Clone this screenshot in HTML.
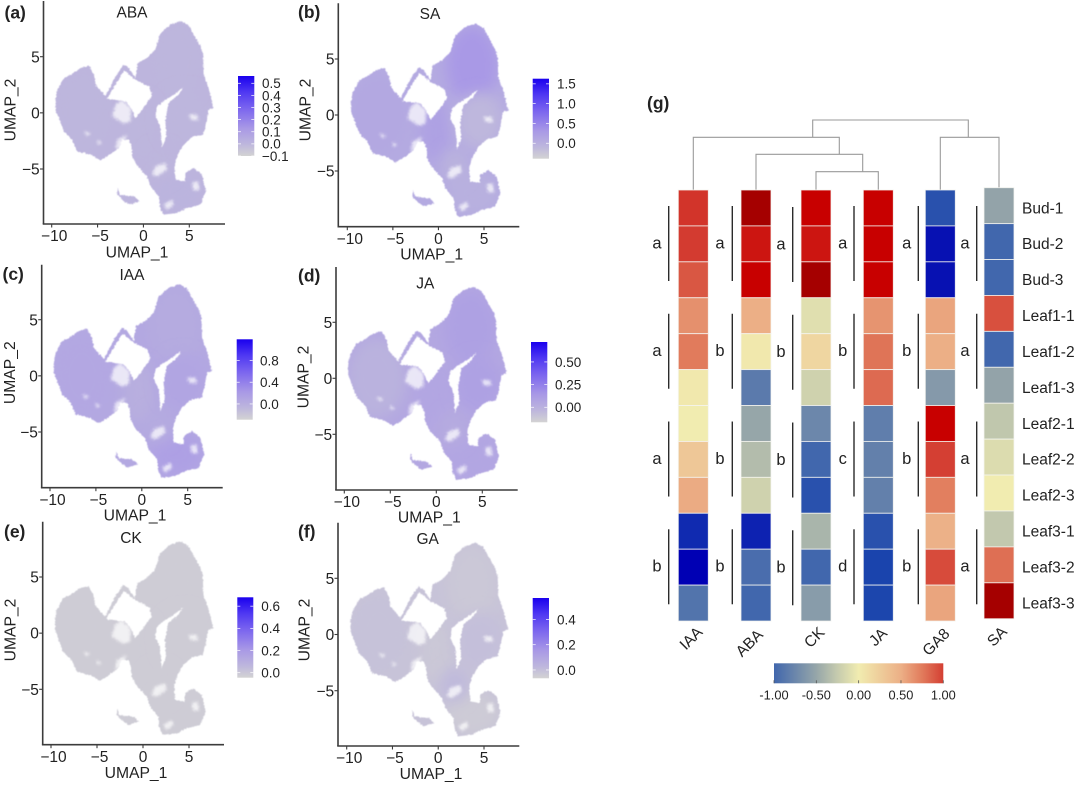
<!DOCTYPE html>
<html>
<head>
<meta charset="utf-8">
<title>Hormone UMAP feature plots and heatmap</title>
<style>
html,body{margin:0;padding:0;background:#fff;}
#figure{display:block;width:1080px;height:795px;background:#fff;}
text{font-family:"Liberation Sans",sans-serif;fill:#222;}
</style>
</head>
<body>
<svg id="figure" xmlns="http://www.w3.org/2000/svg" width="1080" height="795" viewBox="0 0 1080 795">
  <defs>
    <filter id="rough" x="-5%" y="-5%" width="110%" height="110%">
      <feTurbulence type="fractalNoise" baseFrequency="0.5" numOctaves="2" seed="4" result="n"/>
      <feDisplacementMap in="SourceGraphic" in2="n" scale="2.6" xChannelSelector="R" yChannelSelector="G"/>
      <feGaussianBlur stdDeviation="0.45"/>
    </filter>
    <filter id="soft" x="-40%" y="-40%" width="180%" height="180%">
      <feGaussianBlur stdDeviation="7"/>
    </filter>
    <filter id="patch" x="-30%" y="-30%" width="160%" height="160%">
      <feGaussianBlur stdDeviation="1.2"/>
    </filter>
  </defs>
  <g id="umap-panels"></g>
  <g id="heatmap"></g>
</svg>
<script>
// ---------- UMAP shape, in UMAP coordinates ----------
const umapOutline = [[4.09,8.18],[4.93,7.76],[5.47,6.96],[6.20,5.92],[6.49,5.18],[6.56,3.40],[7.10,2.21],[7.64,0.43],[7.10,0.28],[6.74,-1.20],[6.49,-1.94],[5.29,-2.15],[4.38,-2.83],[3.66,-3.87],[3.37,-4.76],[3.48,-5.95],[4.57,-6.10],[4.57,-5.36],[5.47,-4.91],[6.38,-5.50],[6.81,-6.99],[6.20,-8.18],[4.75,-8.47],[3.66,-8.92],[2.14,-9.07],[1.78,-8.32],[1.67,-7.43],[0.76,-6.54],[0.40,-5.65],[-0.76,-4.61],[-1.23,-3.87],[-1.30,-2.98],[-1.59,-2.39],[-2.32,-2.39],[-2.68,-3.13],[-3.95,-3.87],[-4.67,-4.23],[-5.76,-3.72],[-7.21,-3.43],[-7.75,-2.39],[-8.66,-1.65],[-9.57,0.28],[-9.57,1.17],[-9.38,2.06],[-8.66,3.10],[-7.93,3.40],[-6.85,3.99],[-5.94,4.20],[-5.40,3.40],[-5.22,2.51],[-4.13,1.47],[-3.04,3.25],[-2.14,4.29],[-1.59,3.99],[-0.87,3.10],[-0.62,4.44],[0.40,4.88],[1.30,5.62],[1.85,7.11],[2.93,7.85]];
const umapHoles = [
  [[-4.02,1.23],[-3.22,2.30],[-2.07,3.78],[-0.87,2.95],[0.69,2.30],[0.94,1.47],[-0.14,0.28],[-0.87,-0.46],[-1.34,0.43],[-2.00,1.05],[-3.22,1.17]],
  [[4.38,2.30],[3.30,1.62],[2.39,1.17],[1.49,0.58],[1.30,-0.31],[1.85,-1.20],[2.03,-3.13],[2.50,-2.09],[2.39,-0.61],[2.75,0.88],[3.84,1.62]]
];
const umapPatches = [
  [[-3.41,-0.31],[-3.04,0.73],[-2.32,1.15],[-1.34,0.43],[-1.41,-0.76],[-2.14,-0.96]],
  [[1.30,-4.76],[2.39,-4.47],[2.57,-5.06],[1.49,-5.65],[0.94,-5.50]],
  [[2.21,-8.17],[3.12,-7.73],[3.30,-8.17],[2.57,-8.62]],
  [[4.93,-0.16],[5.83,-0.16],[6.01,-0.67],[5.18,-0.61]],
  [[-2.86,-2.39],[-1.78,-1.94],[-2.32,-2.98],[-3.04,-3.28]],
  [[-6.49,-1.65],[-5.76,-1.80],[-6.12,-2.09]],
  [[-5.04,-2.39],[-4.49,-2.69],[-4.96,-2.83]],
  [[5.30,-6.20],[5.95,-6.10],[6.10,-6.90],[5.45,-6.90]]
];
const umapIsland = [[-2.79,-6.69],[-2.57,-7.28],[-1.96,-7.37],[-1.05,-7.43],[-0.40,-7.88],[-1.59,-8.17],[-2.32,-7.73],[-2.86,-7.28]];
const regionNames = ['left','top','center','right','bottom','mid'];
const regionCx = [-6.5,3.7,-0.3,4.5,3.8,1.8];
const regionCy = [0,4.5,-1.5,-0.5,-7,-4.5];
const regionRx = [3.2,2.8,1.7,2.6,3,1.5];
const regionRy = [3.6,3.4,2.8,2.5,2,1.5];

// ---------- UMAP expression values per region ----------
const abaExpression = [0.00,0.00,0.00,0.00,0.01,0.00];
const saExpression  = [0.10,0.30,0.20,-0.10,0.00,-0.03];
const iaaExpression = [0.08,0.04,0.00,0.10,0.15,0.04];
const jaExpression  = [-0.01,0.09,0.06,0.09,0.06,0.03];
const ckExpression  = [-0.02,-0.02,-0.02,-0.02,-0.02,-0.02];
const gaExpression  = [-0.01,-0.03,-0.03,0.00,-0.04,0.02];

const xTickValues = [-10,-5,0,5];
const yTickValues = [5,0,-5];
const abaLegendTicks = [0.5,0.4,0.3,0.2,0.1,0.0,-0.1];
const saLegendTicks = [1.5,1.0,0.5,0.0];
const iaaLegendTicks = [0.8,0.4,0.0];
const jaLegendTicks = [0.50,0.25,0.00];
const ckLegendTicks = [0.6,0.4,0.2,0.0];
const gaLegendTicks = [0.4,0.2,0.0];

// Panel layout (pixel calibration: where x=-10, x=5, y=5, y=-5 fall)
const panels = [
 {id:'a',title:'ABA',values:abaExpression,ticks:abaLegendTicks,digits:1,vmin:-0.1,vmax:0.56,
  axisX:43.5,top:1,bottom:224,right:225,xA:51.7,xB:189.3,yA:56.7,yB:169,
  cbL:238,cbR:254.3,cbT:76,cbB:156,lblX:262,titleP:[132,12],xLab:[137,251.7],yLab:[10,110],tag:[4.5,12]},
 {id:'b',title:'SA',values:saExpression,ticks:saLegendTicks,digits:1,vmin:-0.39,vmax:1.63,
  axisX:338.3,top:3.3,bottom:226.7,right:519.3,xA:347.3,xB:484,yA:59,yB:171,
  cbL:532.7,cbR:549,cbT:78.7,cbB:158.7,lblX:557,titleP:[430,13.3],xLab:[431.7,254],yLab:[305,110],tag:[298,11.7]},
 {id:'c',title:'IAA',values:iaaExpression,ticks:iaaLegendTicks,digits:1,vmin:-0.29,vmax:1.19,
  axisX:41.7,top:264.7,bottom:487.7,right:222.7,xA:50,xB:187.7,yA:319.7,yB:432,
  cbL:236.7,cbR:252.7,cbT:339.3,cbB:419.7,lblX:260,titleP:[132,274.3],xLab:[135,514.7],yLab:[9.3,372.7],tag:[2.5,273.7]},
 {id:'d',title:'JA',values:jaExpression,ticks:jaLegendTicks,digits:2,vmin:-0.166,vmax:0.72,
  axisX:336,top:267,bottom:490,right:517.7,xA:344.3,xB:482.3,yA:322.3,yB:434.3,
  cbL:531,cbR:547.3,cbT:342,cbB:422.3,lblX:555,titleP:[425.3,282.7],xLab:[429.3,517],yLab:[303,377],tag:[298,275.3]},
 {id:'e',title:'CK',values:ckExpression,ticks:ckLegendTicks,digits:1,vmin:-0.045,vmax:0.68,
  axisX:42.7,top:521.7,bottom:744.7,right:224,xA:51,xB:189,yA:577,yB:689.3,
  cbL:237.3,cbR:253.3,cbT:597.3,cbB:677.7,lblX:261.3,titleP:[131,537.3],xLab:[136,772.3],yLab:[10,630],tag:[4,531]},
 {id:'f',title:'GA',values:gaExpression,ticks:gaLegendTicks,digits:1,vmin:-0.066,vmax:0.57,
  axisX:338,top:522.7,bottom:746,right:519.3,xA:346.7,xB:484,yA:578.3,yB:690.7,
  cbL:532.7,cbR:549,cbT:598,cbB:678.3,lblX:557,titleP:[427.7,538.3],xLab:[431,773.3],yLab:[304,630],tag:[298,531]}
];

// ---------- Heatmap data ----------
const heatRows = ['Bud-1','Bud-2','Bud-3','Leaf1-1','Leaf1-2','Leaf1-3','Leaf2-1','Leaf2-2','Leaf2-3','Leaf3-1','Leaf3-2','Leaf3-3'];
const heatColumns = ['IAA','ABA','CK','JA','GA8','SA'];
const iaaHeat = [1.05,1.02,0.90,0.65,0.75,0.03,0.00,0.30,0.52,-1.55,-1.80,-0.90];
const abaHeat = [1.70,1.20,1.30,0.50,0.03,-0.85,-0.50,-0.35,-0.20,-1.60,-0.95,-1.00];
const ckHeat  = [1.30,1.20,1.70,-0.10,0.18,-0.20,-0.75,-1.00,-1.25,-0.40,-1.00,-0.58];
const jaHeat  = [1.30,1.30,1.30,0.63,0.78,0.82,-0.82,-0.80,-0.80,-1.25,-1.40,-1.38];
const ga8Heat = [-1.25,-1.70,-1.70,0.55,0.50,-0.60,1.30,1.00,0.73,0.48,0.95,0.55];
const saHeat  = [-0.52,-1.00,-1.00,0.93,-1.00,-0.52,-0.28,-0.12,0.00,-0.27,0.80,1.70];
const heatMatrix = [iaaHeat,abaHeat,ckHeat,jaHeat,ga8Heat,saHeat];
const iaaLetters = ['a','a','a','b'];
const abaLetters = ['a','b','b','b'];
const ckLetters = ['a','b','b','b'];
const jaLetters = ['a','b','c','d'];
const ga8Letters = ['a','b','b','b'];
const saLetters = ['a','a','a','a'];
const letterMatrix = [iaaLetters,abaLetters,ckLetters,jaLetters,ga8Letters,saLetters];
const heatLegendTicks = [-1,-0.5,0,0.5,1];

// Layout of heatmap (not data)
const heatLayout = {
  colLeft:[678.3,741,801,863.3,925.3,984], colW:30, top:190, rowH:35.92,
  colDy:[0,0,0,0,0,-2.3],
  bracketX:[668.7,732.3,792.7,854,918.3,976.7], bracketDy:[0,0,1,0,0,0],
  letterX:[657,720,781,842.7,906.7,965],
  colLabelPos:[[690.7,638],[749,642.7],[814,637],[877.7,636.7],[935.7,641.7],[996.7,636]],
  rowLabelX:1022,
  cbL:774,cbR:943.3,cbT:663.3,cbB:683.3
};

// ---------- Colour scales ----------
const expressionRamp = [[0,'#d3d3d3'],[0.15,'#bdb6dd'],[0.35,'#a898e6'],[0.6,'#7a64ef'],[0.8,'#4f38f2'],[1,'#1a00ee']];
const heatRamp = [[-1.8,'#0000b4'],[-1.4,'#1a44ad'],[-1,'#4167ad'],[-0.5,'#96a6a9'],[-0.25,'#c6cbae'],[0,'#f1ecb0'],[0.5,'#ecaf86'],[0.75,'#e17b5c'],[1,'#d43f33'],[1.3,'#c80000'],[1.7,'#a50000']];
function hex(c){return [parseInt(c.slice(1,3),16),parseInt(c.slice(3,5),16),parseInt(c.slice(5,7),16)];}
function rampColor(ramp,v){
  if(v<=ramp[0][0]) return ramp[0][1];
  for(let i=1;i<ramp.length;i++){
    if(v<=ramp[i][0]){
      const t=(v-ramp[i-1][0])/(ramp[i][0]-ramp[i-1][0]);
      const a=hex(ramp[i-1][1]),b=hex(ramp[i][1]);
      return 'rgb('+a.map((x,k)=>Math.round(x+(b[k]-x)*t)).join(',')+')';
    }
  }
  return ramp[ramp.length-1][1];
}

// ---------- helpers ----------
const NS='http://www.w3.org/2000/svg';
const svg=document.getElementById('figure');
const defs=svg.querySelector('defs');
function el(tag,attrs,parent){
  const e=document.createElementNS(NS,tag);
  for(const k in attrs) e.setAttribute(k,attrs[k]);
  parent.appendChild(e);
  return e;
}
function txt(str,x,y,size,anchor,parent,extra){
  const e=el('text',Object.assign({x:x,y:y+size*0.36,'font-size':size,'text-anchor':anchor||'middle'},extra||{}),parent);
  e.textContent=str;
  return e;
}
function line(x1,y1,x2,y2,stroke,w,parent){
  return el('line',{x1:x1,y1:y1,x2:x2,y2:y2,stroke:stroke,'stroke-width':w},parent);
}
function polyPath(pts,sx,sy){
  return 'M'+pts.map(p=>sx(p[0]).toFixed(1)+' '+sy(p[1]).toFixed(1)).join('L')+'Z';
}

// ---------- UMAP panels ----------
const umapRoot=document.getElementById('umap-panels');
panels.forEach(function(p){
  const sx=v=>p.xA+(v+10)*(p.xB-p.xA)/15;
  const sy=v=>p.yA+(5-v)*(p.yB-p.yA)/10;
  const tOf=v=>(v-p.vmin)/(p.vmax-p.vmin);
  const colorOf=v=>rampColor(expressionRamp,tOf(v));
  const g=el('g',{},umapRoot);
  
  

  const tag=txt('('+p.id+')',p.tag[0],p.tag[1],17.5,'start',g,{'font-weight':'bold'});
  
  

  const title=txt(p.title,p.titleP[0],p.titleP[1],15.5,'middle',g);
  
  

  // clip & cloud
  const d=polyPath(umapOutline,sx,sy)+umapHoles.map(h=>polyPath(h,sx,sy)).join('')+polyPath(umapIsland,sx,sy);
  const clip=el('clipPath',{id:'clip-'+p.id},defs);
  el('path',{d:d,'clip-rule':'evenodd'},clip);
  const mean=p.values.reduce((a,b)=>a+b,0)/p.values.length;
  const cloud=el('g',{filter:'url(#rough)'},g);
  
  
  el('path',{d:d,fill:colorOf(mean),'fill-rule':'evenodd'},cloud);
  const inner=el('g',{'clip-path':'url(#clip-'+p.id+')'},cloud);
  p.values.forEach(function(v,i){
    const r=el('ellipse',{cx:sx(regionCx[i]),cy:sy(regionCy[i]),rx:regionRx[i]*(p.xB-p.xA)/15,ry:regionRy[i]*(p.yB-p.yA)/10,fill:colorOf(v),filter:'url(#soft)'},inner);
    
    
  });
  umapPatches.forEach(function(patch){
    const s=el('path',{d:polyPath(patch,sx,sy),fill:'#ffffff','fill-opacity':0.72,filter:'url(#patch)'},cloud);
    
    
  });

  // axes
  const yAxis=line(p.axisX,p.top,p.axisX,p.bottom,'#3c3c3c',1.6,g);
  
  
  const xAxis=line(p.axisX-0.8,p.bottom,p.right,p.bottom,'#3c3c3c',1.6,g);
  
  
  xTickValues.forEach(function(t){
    const m=line(sx(t),p.bottom,sx(t),p.bottom+3.5,'#3c3c3c',1.1,g);
    
    
    const l=txt((t<0?'\u2212':'')+Math.abs(t),sx(t)+(t<0?2.5:0),p.bottom+11.5,15.5,'middle',g);
    
    
  });
  yTickValues.forEach(function(t){
    const m=line(p.axisX-3.5,sy(t),p.axisX,sy(t),'#3c3c3c',1.1,g);
    
    
    const l=txt((t<0?'\u2212':'')+Math.abs(t),p.axisX-3.8,sy(t),15.5,'end',g);
    
    
  });
  const xl=txt('UMAP_1',p.xLab[0],p.xLab[1],15.7,'middle',g);
  
  
  const yl=txt('UMAP_2',0,0,15.7,'middle',g,{transform:'translate('+p.yLab[0]+','+p.yLab[1]+') rotate(-90)'});
  
  

  // legend
  const gid='cb-'+p.id;
  const grad=el('linearGradient',{id:gid,x1:0,y1:1,x2:0,y2:0},defs);
  expressionRamp.forEach(s=>el('stop',{offset:s[0],'stop-color':s[1]},grad));
  const cb=el('rect',{x:p.cbL,y:p.cbT,width:p.cbR-p.cbL,height:p.cbB-p.cbT,fill:'url(#'+gid+')'},g);
  
  
  const ly=v=>p.cbB-(v-p.vmin)/(p.vmax-p.vmin)*(p.cbB-p.cbT);
  p.ticks.forEach(function(t){
    const a=line(p.cbL,ly(t),p.cbL+3,ly(t),'#ffffff',0.7,g);
    
    
    const b=line(p.cbR-3,ly(t),p.cbR,ly(t),'#ffffff',0.7,g);
    
    
    const l=txt((t<0?'\u2212':'')+Math.abs(t).toFixed(p.digits),p.lblX,ly(t),13.5,'start',g);
    
    
  });
});

// ---------- Heatmap ----------
const hm=document.getElementById('heatmap');
const L=heatLayout;
const rowY=i=>L.top+i*L.rowH;
const gTag=txt('(g)',647,102.7,17.5,'start',hm,{'font-weight':'bold'});



// dendrogram
const colCenter=i=>L.colLeft[i]+L.colW/2;
const dendroG=el('g',{fill:'none',stroke:'#9a9a9a','stroke-width':1.1},hm);


function bracket(x1,y1,x2,y2,yJoin){
  el('path',{d:'M'+x1+' '+y1+'V'+yJoin+'H'+x2+'V'+y2},dendroG);
}
bracket(colCenter(2),190,colCenter(3),190,171.7);
bracket(colCenter(1),190,862.7,171.7,154.3);
bracket(colCenter(0),190,839.3,154.3,137.3);
bracket(colCenter(4),190,colCenter(5),187.7,137.3);
bracket(812.7,137.3,968.3,137.3,120);

heatMatrix.forEach(function(col,c){
  const left=L.colLeft[c],dy=L.colDy[c];
  col.forEach(function(v,r){
    const cell=el('rect',{x:left,y:rowY(r)+dy,width:L.colW,height:L.rowH,fill:rampColor(heatRamp,v),stroke:'#f4f4f0','stroke-width':0.9,'stroke-opacity':0.85},hm);
    
    
  });
  letterMatrix[c].forEach(function(letter,k){
    const top=rowY(k*3)+L.bracketDy[c];
    const b=line(L.bracketX[c],top+16,L.bracketX[c],top+91,'#2b2b2b',1.4,hm);
    
    
    const t=el('text',{x:L.letterX[c],y:top+58.3,'font-size':16.5,'text-anchor':'middle'},hm);
    t.textContent=letter;
    
    
  });
  const cp=L.colLabelPos[c];
  const cl=txt(heatColumns[c],0,0,15.5,'middle',hm,{transform:'translate('+cp[0]+','+cp[1]+') rotate(-45)'});
  
  
});
heatRows.forEach(function(name,r){
  const rl=txt(name,L.rowLabelX,rowY(r)+17.7,15.5,'start',hm);
  
  
});

// heatmap legend
const hg=el('linearGradient',{id:'heat-grad',x1:0,y1:0,x2:1,y2:0},defs);
heatRamp.filter(s=>s[0]>=-1&&s[0]<=1).forEach(function(s){
  el('stop',{offset:(s[0]+1)/2,'stop-color':s[1]},hg);
});
const hcb=el('rect',{x:L.cbL,y:L.cbT,width:L.cbR-L.cbL,height:L.cbB-L.cbT,fill:'url(#heat-grad)'},hm);


heatLegendTicks.forEach(function(t){
  const x=L.cbL+(t+1)/2*(L.cbR-L.cbL);
  const m=line(x,L.cbB-3,x,L.cbB,'#555555',0.8,hm);
  
  
  const l=txt(t.toFixed(2),x,694.7,12.8,'middle',hm);
  
  
});
</script>
</body>
</html>
